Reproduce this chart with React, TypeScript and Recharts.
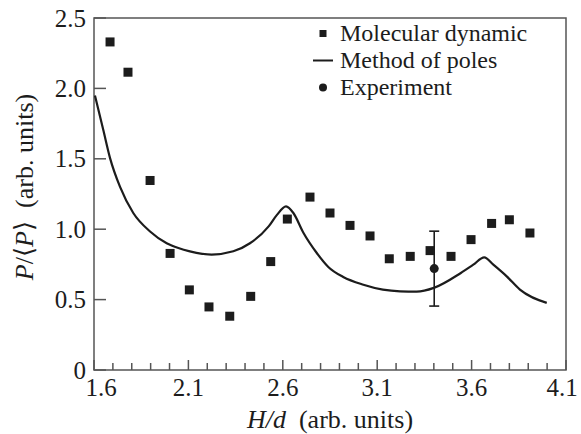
import { ComposedChart, Line, Scatter, XAxis, YAxis, ReferenceArea, ErrorBar } from 'recharts'

// Molecular dynamic (squares)
const MD_X = [1.685, 1.78, 1.897, 2.003, 2.105, 2.209, 2.319, 2.43, 2.536, 2.624, 2.744, 2.85, 2.956, 3.062, 3.164, 3.275, 3.38, 3.491, 3.597, 3.706, 3.8, 3.909]
const MD_Y = [2.33, 2.115, 1.346, 0.828, 0.569, 0.448, 0.382, 0.523, 0.77, 1.072, 1.228, 1.115, 1.027, 0.952, 0.79, 0.807, 0.848, 0.807, 0.926, 1.041, 1.067, 0.973]

// Method of poles (solid curve)
const POLES_X = [1.605, 1.649, 1.685, 1.738, 1.808, 1.897, 1.985, 2.047, 2.108, 2.223, 2.338, 2.426, 2.525, 2.568, 2.617, 2.656, 2.709, 2.78, 2.841, 2.92, 3.027, 3.13, 3.221, 3.309, 3.4, 3.543, 3.609, 3.667, 3.715, 3.786, 3.856, 3.998]
const POLES_Y = [1.95, 1.706, 1.505, 1.3, 1.115, 0.984, 0.9, 0.866, 0.843, 0.82, 0.843, 0.9, 1.02, 1.1, 1.162, 1.115, 0.975, 0.831, 0.732, 0.661, 0.606, 0.571, 0.559, 0.557, 0.583, 0.689, 0.748, 0.8, 0.748, 0.665, 0.571, 0.477]

// Experiment (circle with error bar)
const EXP_X = [3.402]
const EXP_Y = [0.72]
const EXP_ERR = [0.266]

const X_TICKS = [1.6, 1.7, 1.8, 1.9, 2.0, 2.1, 2.2, 2.3, 2.4, 2.5, 2.6, 2.7, 2.8, 2.9, 3.0, 3.1, 3.2, 3.3, 3.4, 3.5, 3.6, 3.7, 3.8, 3.9, 4.0, 4.1]
const X_LABELS = [1.6, 2.1, 2.6, 3.1, 3.6, 4.1]
const Y_TICKS = [0, 0.5, 1, 1.5, 2, 2.5]
const Y_LABELS = ['0', '0.5', '1.0', '1.5', '2.0', '2.5']

const LEGEND = ['Molecular dynamic', 'Method of poles', 'Experiment']

const FONT = '"Liberation Serif", "Times New Roman", Times, "DejaVu Serif", serif'
const INK = '#1c1c1c'
const AXIS = '#555'

const mdData = MD_X.map((x, i) => ({ x, y: MD_Y[i] }))
const polesData = POLES_X.map((x, i) => ({ x, y: POLES_Y[i] }))
const expData = EXP_X.map((x, i) => ({ x, y: EXP_Y[i], err: EXP_ERR[i] }))

function XTick(props: any) {
  const { x, y, payload } = props
  const v = payload.value as number
  const major = X_LABELS.some((m) => Math.abs(m - v) < 1e-6)
  const dx = Math.abs(v - X_LABELS[0]) < 1e-6 ? 7 : Math.abs(v - X_LABELS[X_LABELS.length - 1]) < 1e-6 ? -4 : 0
  return (
    <g>
      <line x1={x} x2={x} y1={y} y2={y - (major ? 10 : 7)} stroke={AXIS} strokeWidth={1.5} />
      {major && (
        <text x={x + dx} y={y + 26} textAnchor="middle" fontFamily={FONT} fontSize={25} fill={INK}>
          {v.toFixed(1)}
        </text>
      )}
    </g>
  )
}

function YTick(props: any) {
  const { x, y, payload } = props
  const idx = Y_TICKS.findIndex((t) => Math.abs(t - payload.value) < 1e-6)
  return (
    <g>
      <line x1={x} x2={x + 12} y1={y} y2={y} stroke={AXIS} strokeWidth={1.5} />
      <text x={x - 8} y={y + 8.5} textAnchor="end" fontFamily={FONT} fontSize={25} fill={INK}>
        {Y_LABELS[idx]}
      </text>
    </g>
  )
}

const XTitle = () => (
  <text x={330} y={428} textAnchor="middle" fontFamily={FONT} fontSize={26} fill={INK}>
    <tspan fontStyle="italic">H/d</tspan>
    <tspan>{'\u00a0\u00a0(arb. units)'}</tspan>
  </text>
)

const YTitle = () => (
  <text x={33} y={187} transform="rotate(-90, 33, 187)" textAnchor="middle" fontFamily={FONT} fontSize={26} fill={INK}>
    <tspan fontStyle="italic">P</tspan>
    <tspan>/⟨</tspan>
    <tspan fontStyle="italic">P</tspan>
    <tspan>{'⟩\u00a0\u00a0(arb. units)'}</tspan>
  </text>
)

const Square = (props: any) => (
  <rect x={props.cx - 4.5} y={props.cy - 4.5} width={9} height={9} fill={INK} />
)

const Dot = (props: any) => <circle cx={props.cx} cy={props.cy} r={4.5} fill={INK} />

function LegendIcon({ kind }: { kind: number }) {
  return (
    <svg width={26} height={26.7}>
      {kind === 0 && <rect x={9.5} y={10} width={7} height={7} fill={INK} />}
      {kind === 1 && <line x1={3} x2={23} y1={13.5} y2={13.5} stroke={INK} strokeWidth={2} />}
      {kind === 2 && <circle cx={13} cy={13.5} r={4} fill={INK} />}
    </svg>
  )
}

export default function App() {
  return (
    <div style={{ position: 'relative', width: 581, height: 434, background: '#fff' }}>
      <style>{'body{margin:0}'}</style>
      <ComposedChart width={581} height={434} margin={{ top: 18, right: 15, bottom: 24, left: 0 }}>
        <XAxis
          type="number"
          dataKey="x"
          domain={[1.6, 4.1]}
          ticks={X_TICKS}
          interval={0}
          allowDataOverflow
          height={40}
          axisLine={false}
          tickLine={false}
          tickSize={0}
          tickMargin={0}
          tick={(p: any) => <XTick {...p} />}
          label={<XTitle />}
        />
        <YAxis
          type="number"
          dataKey="y"
          domain={[0, 2.5]}
          ticks={Y_TICKS}
          interval={0}
          allowDataOverflow
          width={94}
          axisLine={false}
          tickLine={false}
          tickSize={0}
          tickMargin={0}
          tick={(p: any) => <YTick {...p} />}
          label={<YTitle />}
        />
        <ReferenceArea x1={1.6} x2={4.1} y1={0} y2={2.5} fill="none" stroke={AXIS} strokeWidth={1.5} ifOverflow="visible" />
        <Line
          data={polesData}
          dataKey="y"
          type="monotone"
          stroke={INK}
          strokeWidth={2.2}
          dot={false}
          activeDot={false}
          isAnimationActive={false}
        />
        <Scatter data={mdData} dataKey="y" shape={Square} isAnimationActive={false} />
        <Scatter data={expData} dataKey="y" shape={Dot} isAnimationActive={false}>
          <ErrorBar dataKey="err" direction="y" width={5} stroke={INK} strokeWidth={1.6} />
        </Scatter>
      </ComposedChart>
      <div style={{ position: 'absolute', left: 310, top: 20.3, fontFamily: FONT, fontSize: 24, color: INK }}>
        {LEGEND.map((name, i) => (
          <div key={name} style={{ display: 'flex', alignItems: 'center', height: 26.7, lineHeight: '26.7px' }}>
            <LegendIcon kind={i} />
            <span style={{ marginLeft: 4, whiteSpace: 'nowrap' }}>{name}</span>
          </div>
        ))}
      </div>
    </div>
  )
}
